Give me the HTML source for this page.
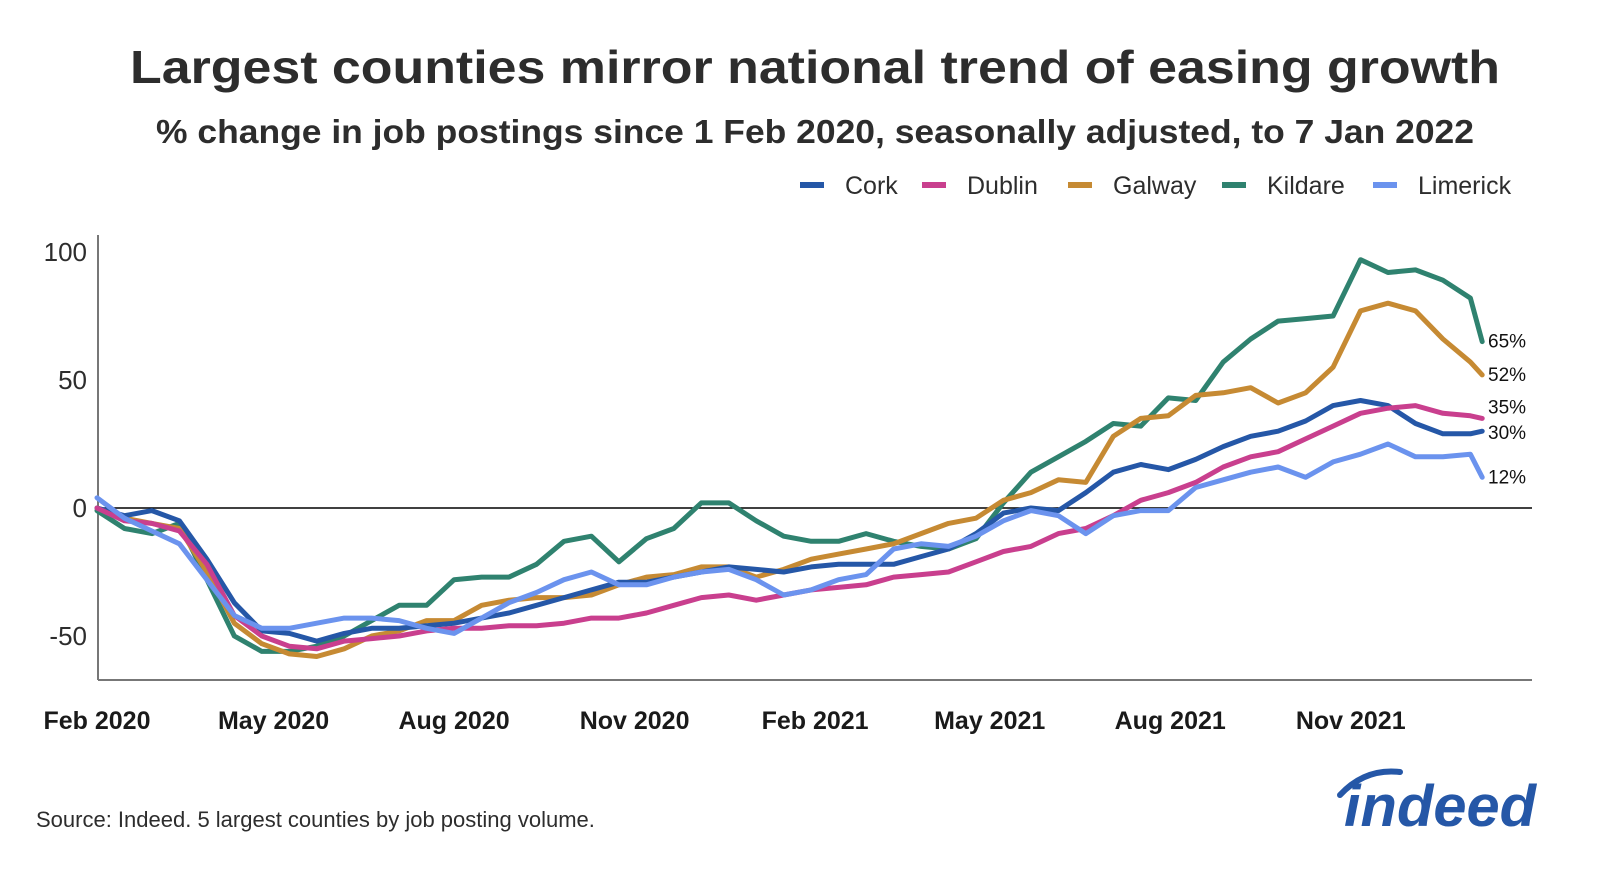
<!DOCTYPE html>
<html><head><meta charset="utf-8"><style>
html,body{margin:0;padding:0;background:#fff;}
svg{display:block;font-family:"Liberation Sans","DejaVu Sans",sans-serif;}
</style></head><body>
<svg id="chart" width="1600" height="873" viewBox="0 0 1600 873">
<text x="815" y="83" text-anchor="middle" font-size="46" font-weight="bold" fill="#2d2d2d" textLength="1370" lengthAdjust="spacingAndGlyphs">Largest counties mirror national trend of easing growth</text>
<text x="815" y="143" text-anchor="middle" font-size="33" font-weight="bold" fill="#2d2d2d" textLength="1318" lengthAdjust="spacingAndGlyphs">% change in job postings since 1 Feb 2020, seasonally adjusted, to 7 Jan 2022</text>
<g id="legend"></g>
<g id="axes"></g>
<g id="series"></g>
<text x="36" y="827" font-size="22" fill="#2d2d2d">Source: Indeed. 5 largest counties by job posting volume.</text>
<g>
<path d="M1340 795 Q1365 768 1400 772" stroke="#2557a7" stroke-width="6" fill="none" stroke-linecap="round"/>
<text x="1344" y="826" font-size="58" font-weight="bold" font-style="italic" fill="#2557a7" textLength="192" lengthAdjust="spacingAndGlyphs">indeed</text>
</g>
</svg>
<script>
const xLabels = ["Feb 2020","May 2020","Aug 2020","Nov 2020","Feb 2021","May 2021","Aug 2021","Nov 2021"];
const xLabelDays = [0, 90, 182, 274, 366, 455, 547, 639];
const yTicks = [-50, 0, 50, 100];
const seriesNames = ["Cork","Dublin","Galway","Kildare","Limerick"];
const seriesColors = ["#2557a7","#c93f8e","#c68a33","#2f826f","#6b93ee"];
const cork = [0,-3,-1,-5,-20,-37,-48,-49,-52,-49,-47,-47,-46,-45,-43,-41,-38,-35,-32,-29,-29,-27,-25,-23,-24,-25,-23,-22,-22,-22,-19,-16,-10,-2,0,-1,6,14,17,15,19,24,28,30,34,40,42,40,33,29,29,30];
const dublin = [0,-5,-6,-9,-22,-42,-50,-54,-55,-52,-51,-50,-48,-47,-47,-46,-46,-45,-43,-43,-41,-38,-35,-34,-36,-34,-32,-31,-30,-27,-26,-25,-21,-17,-15,-10,-8,-3,3,6,10,16,20,22,27,32,37,39,40,37,36,35];
const galway = [0,-4,-6,-8,-25,-45,-53,-57,-58,-55,-50,-48,-44,-44,-38,-36,-35,-35,-34,-30,-27,-26,-23,-23,-27,-24,-20,-18,-16,-14,-10,-6,-4,3,6,11,10,28,35,36,44,45,47,41,45,55,77,80,77,66,57,52];
const kildare = [-1,-8,-10,-6,-28,-50,-56,-56,-54,-50,-44,-38,-38,-28,-27,-27,-22,-13,-11,-21,-12,-8,2,2,-5,-11,-13,-13,-10,-13,-15,-16,-12,2,14,20,26,33,32,43,42,57,66,73,74,75,97,92,93,89,82,65];
const limerick = [4,-4,-9,-14,-28,-42,-47,-47,-45,-43,-43,-44,-47,-49,-43,-37,-33,-28,-25,-30,-30,-27,-25,-24,-28,-34,-32,-28,-26,-16,-14,-15,-11,-5,-1,-3,-10,-3,-1,-1,8,11,14,16,12,18,21,25,20,20,21,12];
const pointDays = cork.map((_, i) => i < cork.length - 1 ? i * 14 : 706);
const endLabelNudge = [8, -5, 6, 6, 6];

const NS = "http://www.w3.org/2000/svg";
const X0 = 97, PXD = 1.962, Y0 = 508, PXU = 2.56;
const xScale = d => X0 + d * PXD;
const yScale = v => Y0 - v * PXU;
function mk(tag, attrs, parent){const e=document.createElementNS(NS,tag);for(const k in attrs)e.setAttribute(k,attrs[k]);parent.appendChild(e);return e;}
const axes = document.getElementById("axes");
const series = document.getElementById("series");
const legend = document.getElementById("legend");

let l = mk("line",{x1:98,y1:235,x2:98,y2:680,stroke:"#777","stroke-width":2},axes);


l = mk("line",{x1:98,y1:680,x2:1532,y2:680,stroke:"#777","stroke-width":2},axes);


l = mk("line",{x1:98,y1:yScale(0),x2:1532,y2:yScale(0),stroke:"#000","stroke-width":1.5},axes);



yTicks.forEach(v=>{
  const t = mk("text",{x:87,y:yScale(v)+9,"text-anchor":"end","font-size":26,fill:"#2d2d2d"},axes);
  t.textContent = v;
  
  
});
xLabels.forEach((s,i)=>{
  const t = mk("text",{x:xScale(xLabelDays[i]),y:729,"text-anchor":"middle","font-size":25,"font-weight":"bold",fill:"#1a1a1a"},axes);
  t.textContent = s;
  
  
});

const allData = [cork, dublin, galway, kildare, limerick];
const drawOrder = [3,2,0,1,4];
drawOrder.forEach(si=>{
  const d = allData[si].map((v,i)=>(i?"L":"M")+xScale(pointDays[i]).toFixed(1)+" "+yScale(v).toFixed(1)).join(" ");
  const p = mk("path",{d:d,fill:"none",stroke:seriesColors[si],"stroke-width":5,"stroke-linejoin":"round","stroke-linecap":"round"},series);
  
  
});
allData.forEach((arr,si)=>{
  const last = arr[arr.length-1];
  const t = mk("text",{x:1488,y:yScale(last)+endLabelNudge[si],"font-size":19,fill:"#111"},series);
  t.textContent = last + "%";
  
  
});

const legendX = [800, 922, 1068, 1222, 1373];
seriesNames.forEach((n,i)=>{
  const g = mk("g",{},legend);
  
  
  mk("line",{x1:legendX[i],y1:185,x2:legendX[i]+24,y2:185,stroke:seriesColors[i],"stroke-width":6},g);
  const t = mk("text",{x:legendX[i]+45,y:194,"font-size":25,fill:"#2d2d2d"},g);
  t.textContent = n;
});
</script>
</body></html>
